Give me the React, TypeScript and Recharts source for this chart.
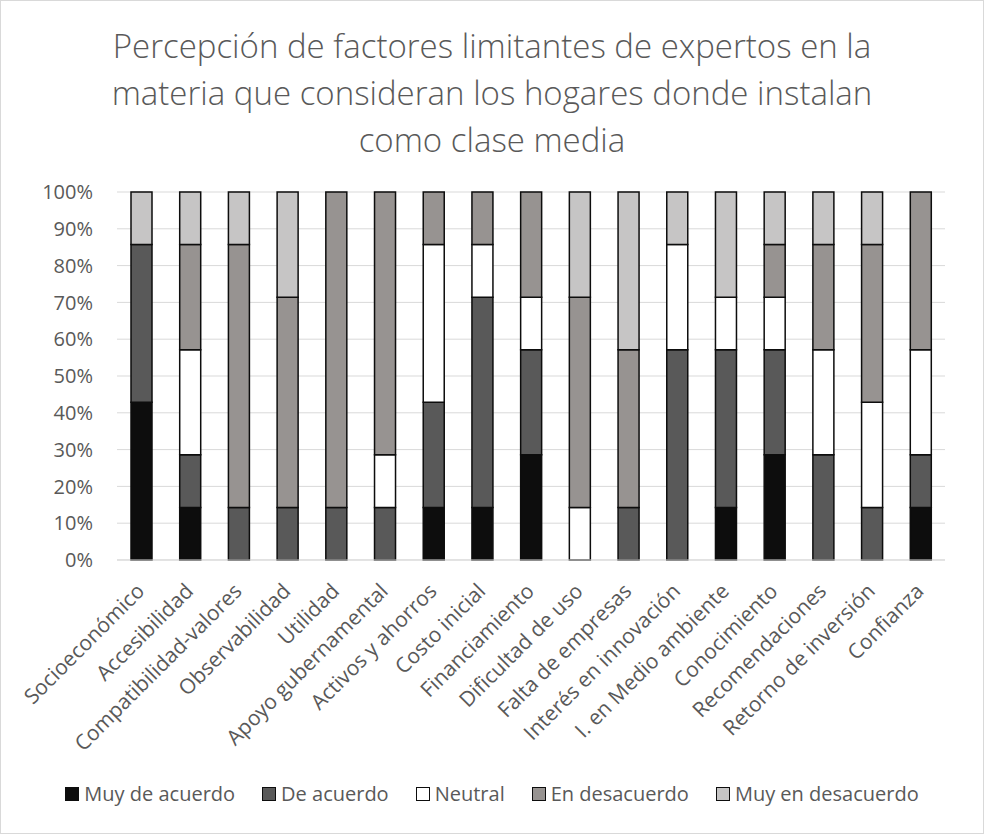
import { BarChart, Bar, XAxis, YAxis, CartesianGrid } from 'recharts';

const categories = [
  'Socioeconómico', 'Accesibilidad', 'Compatibilidad-valores', 'Observabilidad', 'Utilidad',
  'Apoyo gubernamental', 'Activos y ahorros', 'Costo inicial', 'Financiamiento', 'Dificultad de uso',
  'Falta de empresas', 'Interés en innovación', 'I. en Medio ambiente', 'Conocimiento',
  'Recomendaciones', 'Retorno de inversión', 'Confianza',
];

// number of experts (of 7) per answer
const muyDeAcuerdo = [3, 1, 0, 0, 0, 0, 1, 1, 2, 0, 0, 0, 1, 2, 0, 0, 1];
const deAcuerdo = [3, 1, 1, 1, 1, 1, 2, 4, 2, 0, 1, 4, 3, 2, 2, 1, 1];
const neutral = [0, 2, 0, 0, 0, 1, 3, 1, 1, 1, 0, 2, 1, 1, 2, 2, 2];
const enDesacuerdo = [0, 2, 5, 4, 6, 5, 1, 1, 2, 4, 3, 0, 0, 1, 2, 3, 3];
const muyEnDesacuerdo = [1, 1, 1, 2, 0, 0, 0, 0, 0, 2, 3, 1, 2, 1, 1, 1, 0];

const yTicks = [0, 0.1, 0.2, 0.3, 0.4, 0.5, 0.6, 0.7, 0.8, 0.9, 1];

const series = [
  { key: 'ma', name: 'Muy de acuerdo', color: '#0d0d0d', values: muyDeAcuerdo },
  { key: 'da', name: 'De acuerdo', color: '#595959', values: deAcuerdo },
  { key: 'n', name: 'Neutral', color: '#ffffff', values: neutral },
  { key: 'ed', name: 'En desacuerdo', color: '#979391', values: enDesacuerdo },
  { key: 'med', name: 'Muy en desacuerdo', color: '#c6c5c5', values: muyEnDesacuerdo },
];

const data = categories.map((name, i) => {
  const row: Record<string, string | number> = { name };
  series.forEach((s) => { row[s.key] = s.values[i]; });
  return row;
});

const font = '"Open Sans", sans-serif';
const grey = '#595959';

function AngledTick({ x, y, payload }: any) {
  const tx = x - 8;
  const ty = y + 12;
  return (
    <text
      x={tx}
      y={ty}
      transform={`rotate(-45, ${tx}, ${ty})`}
      textAnchor="end"
      dominantBaseline="hanging"
      fill={grey}
      fontSize={21}
      fontFamily={font}
    >
      {payload.value}
    </text>
  );
}

export default function App() {
  return (
    <div
      style={{
        position: 'absolute', top: 0, left: 0, width: 984, height: 834,
        border: '1px solid #d9d9d9', boxSizing: 'border-box', background: '#fff',
        fontFamily: font,
      }}
    >
      <div
        style={{
          position: 'absolute', top: 21, left: 0, width: 982, textAlign: 'center',
          fontSize: 33, lineHeight: '47px', color: grey, fontWeight: 300,
        }}
      >
        Percepción de factores limitantes de expertos en la<br />
        materia que consideran los hogares donde instalan<br />
        como clase media
      </div>
      <div style={{ position: 'absolute', top: 0, left: 0 }}>
        <BarChart
          width={982}
          height={832}
          data={data}
          stackOffset="expand"
          margin={{ top: 191, right: 38, left: 44, bottom: 0 }}
        >
          <CartesianGrid vertical={false} stroke="#d9d9d9" />
          <XAxis
            dataKey="name"
            interval={0}
            height={273}
            tick={<AngledTick />}
            tickLine={false}
            axisLine={{ stroke: '#d9d9d9' }}
          />
          <YAxis
            width={72}
            domain={[0, 1]}
            ticks={yTicks}
            tickMargin={18}
            tickFormatter={(v) => `${Math.round(v * 100)}%`}
            tick={{ fill: grey, fontSize: 20, fontFamily: font }}
            axisLine={false}
            tickLine={false}
          />
          {series.map((s) => (
            <Bar
              key={s.key}
              dataKey={s.key}
              name={s.name}
              stackId="a"
              fill={s.color}
              stroke="#0d0d0d"
              strokeWidth={1.5}
              barSize={21}
              isAnimationActive={false}
            />
          ))}
        </BarChart>
      </div>
      <div
        style={{
          position: 'absolute', top: 779, left: 0, width: 982, display: 'flex',
          justifyContent: 'center', gap: 27, fontSize: 20, color: grey,
        }}
      >
        {series.map((s) => (
          <div key={s.key} style={{ display: 'flex', alignItems: 'center', gap: 5 }}>
            <span
              style={{
                display: 'inline-block', width: 12, height: 12, background: s.color,
                border: '1.5px solid #0d0d0d',
              }}
            />
            {s.name}
          </div>
        ))}
      </div>
    </div>
  );
}
